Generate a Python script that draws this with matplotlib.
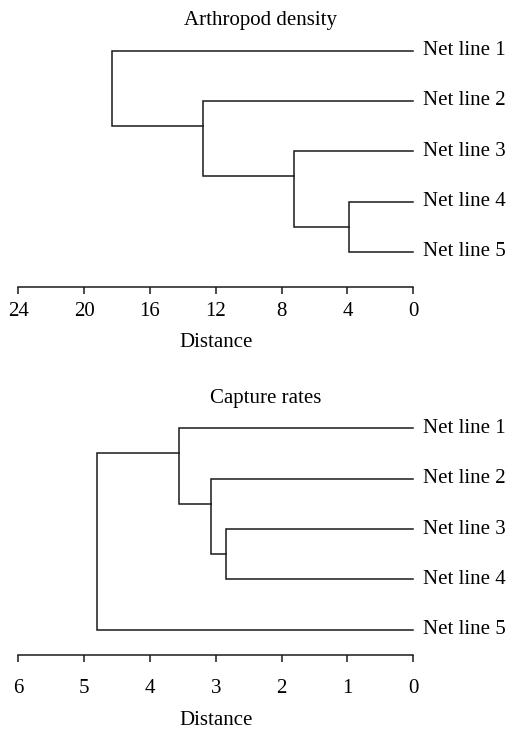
import matplotlib
matplotlib.use("Agg")
import matplotlib.pyplot as plt

plt.rcParams['font.family'] = ['Liberation Serif', 'DejaVu Serif']

labels = ["Net line 1", "Net line 2", "Net line 3", "Net line 4", "Net line 5"]

# merges: (top child, bottom child, distance); children are leaf indexes or "c<k>" for earlier merges
top_title = "Arthropod density"
top_merges = [(3, 4, 3.93), (2, "c0", 7.25), (1, "c1", 12.8), (0, "c2", 18.3)]
top_ticks = [24, 20, 16, 12, 8, 4, 0]

bot_title = "Capture rates"
bot_merges = [(2, 3, 2.85), (1, "c0", 3.07), (0, "c1", 3.56), ("c2", 4, 4.81)]
bot_ticks = [6, 5, 4, 3, 2, 1, 0]

W, H = 507, 729
fig = plt.figure(figsize=(W / 100, H / 100), dpi=100)


def node_pos(node, placed):
    if isinstance(node, str):
        return placed[node]
    return (0.0, float(node), node)  # x, y, top leaf


def draw_dendro(ax, merges):
    placed = {}
    for k, (a, b, d) in enumerate(merges):
        xa, ya, ta = node_pos(a, placed)
        xb, yb, tb = node_pos(b, placed)
        ax.plot([xa, d, d, xb], [ya, ya, yb, yb], color="#1a1a1a", lw=1.1,
                solid_joinstyle="miter", clip_on=False)
        top_leaf = min(ta, tb)
        placed["c%d" % k] = (d, top_leaf + 0.5, top_leaf)
    for i, lab in enumerate(labels):
        ax.annotate(lab, (0, i), xytext=(7, 0), textcoords="offset points",
                    va="center", ha="left", fontsize=15, annotation_clip=False)


def setup(ax, ticks, title, ylim, title_x, title_base, xlabel_base, pad):
    ax.set_xlim(max(ticks), 0)
    ax.set_ylim(*ylim)
    ax.set_xticks(ticks)
    ax.set_yticks([])
    for s in ["top", "right", "left"]:
        ax.spines[s].set_visible(False)
    ax.spines["bottom"].set_linewidth(1.1)
    ax.spines["bottom"].set_color("#1a1a1a")
    ax.tick_params(axis="x", direction="out", length=5, width=1.1, pad=pad,
                   labelsize=15, color="#1a1a1a")
    fig.text(title_x / W, 1 - title_base / H, title, ha="center", va="baseline", fontsize=15)
    cx = (18.3 + 413.3) / 2 / W
    fig.text(cx, 1 - xlabel_base / H, "Distance", ha="center", va="baseline", fontsize=15)


left = 18.3 / W
width = (413.3 - 18.3) / W

ax1 = fig.add_axes([left, 1 - 287 / H, width, (287 - 40) / H])
setup(ax1, top_ticks, top_title, (4.70, -0.213), 261, 25, 347, 6)
draw_dendro(ax1, top_merges)

ax2 = fig.add_axes([left, 1 - 655 / H, width, (655 - 418) / H])
setup(ax2, bot_ticks, bot_title, (4.50, -0.204), 266, 403, 725, 12)
draw_dendro(ax2, bot_merges)

fig.savefig("out.png", dpi=100)
